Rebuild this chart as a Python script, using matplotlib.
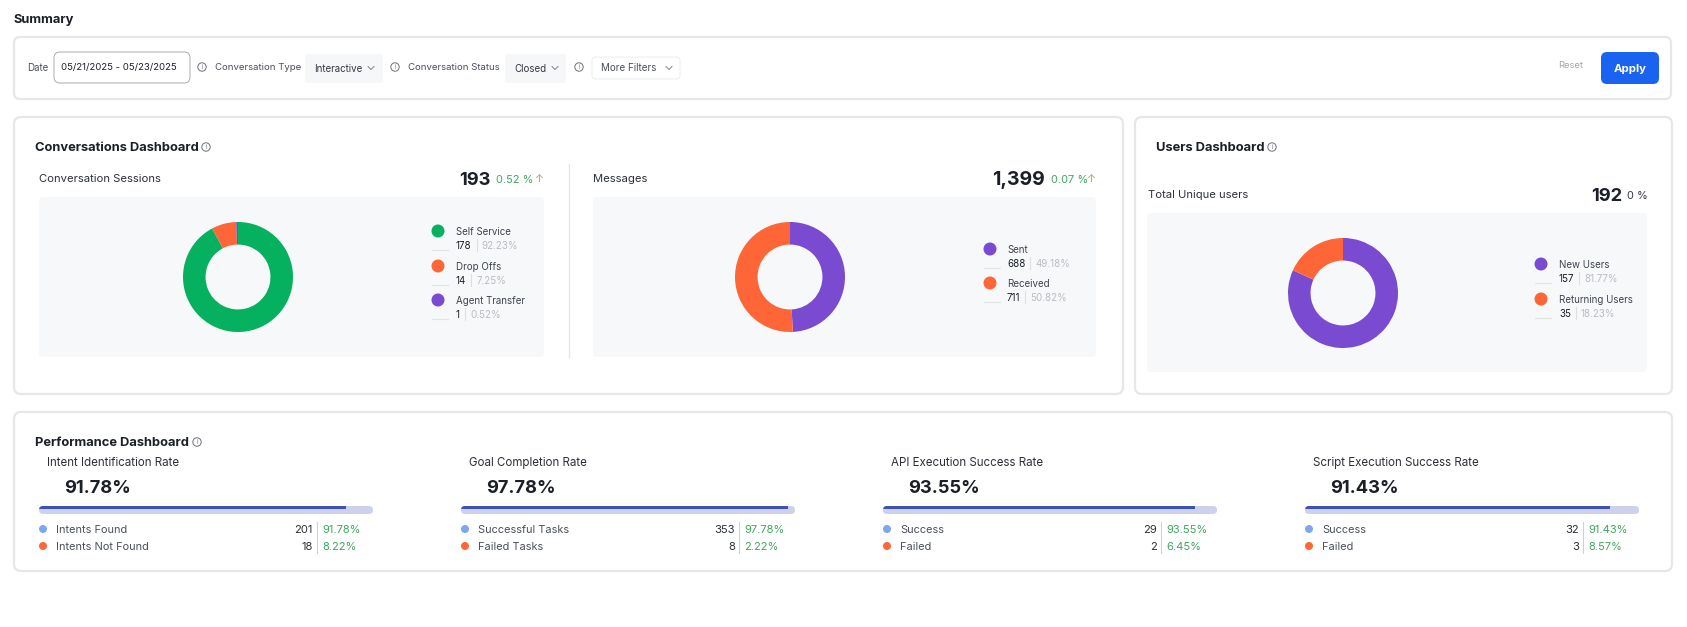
"""Summary page with the conversation, user and performance dashboards."""

import matplotlib

matplotlib.use("Agg")
import matplotlib.pyplot as plt
from matplotlib.patches import Circle, FancyBboxPatch

W, H = 1687, 627

PURPLE = "#7A4AD0"
ORANGE = "#FF6637"
GREEN = "#05B05F"
INK = "#1B1F27"
MUTED = "#4A4F5A"
FAINT = "#B9BCC2"
POS = "#3FA65F"
BORDER = "#E6E7E8"
PANEL = "#F6F8FA"

session_labels = ["Self Service", "Drop Offs", "Agent Transfer"]
session_counts = [178, 14, 1]
session_shares = ["92.23%", "7.25%", "0.52%"]

message_labels = ["Sent", "Received"]
message_counts = [688, 711]
message_shares = ["49.18%", "50.82%"]

user_labels = ["New Users", "Returning Users"]
user_counts = [157, 35]
user_shares = ["81.77%", "18.23%"]

perf_titles = [
    "Intent Identification Rate",
    "Goal Completion Rate",
    "API Execution Success Rate",
    "Script Execution Success Rate",
]
perf_rates = [91.78, 97.78, 93.55, 91.43]
perf_labels = [
    ("Intents Found", "Intents Not Found"),
    ("Successful Tasks", "Failed Tasks"),
    ("Success", "Failed"),
    ("Success", "Failed"),
]
perf_counts = [(201, 18), (353, 8), (29, 2), (32, 3)]
perf_shares = [
    ("91.78%", "8.22%"),
    ("97.78%", "2.22%"),
    ("93.55%", "6.45%"),
    ("91.43%", "8.57%"),
]

plt.rcParams["font.family"] = ["Inter", "DejaVu Sans"]

fig = plt.figure(figsize=(W / 100, H / 100), dpi=100, facecolor="white")
ax = fig.add_axes([0, 0, 1, 1])
ax.set_xlim(0, W)
ax.set_ylim(H, 0)
ax.axis("off")


def box(x0, y0, x1, y1, fc="white", ec=BORDER, lw=1.6, r=6, z=1):
    patch = FancyBboxPatch(
        (x0 + r, y0 + r), x1 - x0 - 2 * r, y1 - y0 - 2 * r,
        boxstyle=f"round,pad={r},rounding_size={r}",
        fc=fc, ec=ec, lw=lw, zorder=z,
    )
    ax.add_patch(patch)
    return patch


def label(x, y, s, size=7.2, color=MUTED, weight="normal", ha="left"):
    # nudge: va="center" sits a little high against the browser text
    return ax.text(x, y + 1.2, s, fontsize=size, color=color, fontweight=weight,
                   ha=ha, va="center", zorder=5)


def info(x, y, r=4.2, color="#6B7078"):
    ax.add_patch(Circle((x, y), r, fc="none", ec=color, lw=0.7, zorder=5))
    ax.text(x, y, "i", fontsize=4.6, color=color, ha="center", va="center", zorder=6)


def chevron(x, y, color="#6B7078"):
    ax.plot([x - 3, x, x + 3], [y - 1.5, y + 1.5, y - 1.5], color=color, lw=0.6, zorder=5)


def donut(cx, cy, r, counts, colors):
    inset = fig.add_axes([(cx - r) / W, 1 - (cy + r) / H, 2 * r / W, 2 * r / H])
    inset.pie(counts, colors=colors, startangle=90, counterclock=False, radius=1,
              wedgeprops={"width": 0.41, "linewidth": 0})
    inset.set_xlim(-1, 1)
    inset.set_ylim(-1, 1)
    inset.patch.set_alpha(0)


def legend(dot_x, text_x, ys, labels, counts, shares, colors):
    for y, name, n, share, c in zip(ys, labels, counts, shares, colors):
        ax.add_patch(Circle((dot_x, y), 6.5, fc=c, ec="none", zorder=5))
        label(text_x, y, name, size=7, color="#3F434C")
        t = label(text_x, y + 14, str(n), size=7, color=INK)
        w = t.get_window_extent(fig.canvas.get_renderer()).width
        ax.plot([text_x + w + 5] * 2, [y + 8, y + 20], color="#DDDFE2", lw=0.8, zorder=5)
        label(text_x + w + 10, y + 14, share, size=7, color=FAINT)
        ax.plot([dot_x - 6, dot_x + 10], [y + 19, y + 19], color="#E1E3E6", lw=0.8, zorder=5)


# header and filter bar
label(14, 19, "Summary", size=9.3, color=INK, weight="bold")
box(14, 37, 1671, 99)
label(27.5, 66.5, "Date", size=7)
box(54, 52, 190, 83, ec="#A9ABAF", lw=0.7, r=6, z=2)
label(61, 66.5, "05/21/2025 - 05/23/2025", size=6.9, color=INK)
info(202, 67)
label(215, 66.5, "Conversation Type", size=6.9)
box(305, 54, 383, 83, fc="#F6F7F9", ec="none", lw=0, r=3, z=2)
label(314, 67.5, "Interactive", size=7, color="#33373F")
chevron(371, 68)
info(395, 67)
label(408.5, 66.5, "Conversation Status", size=6.9)
box(505, 54, 566, 83, fc="#F6F7F9", ec="none", lw=0, r=3, z=2)
label(514, 67.5, "Closed", size=7, color="#33373F")
chevron(555, 68)
info(579, 67)
box(592, 57, 680, 79, ec="#ECEDEF", lw=0.7, r=3, z=2)
label(601, 66.5, "More Filters", size=7.1)
chevron(669, 68)
label(1558, 64.5, "Reset", size=6.7, color="#A3A5A9")
box(1601, 52, 1659, 84, fc="#1A63F0", ec="none", lw=0, r=6, z=2)
label(1630, 67.5, "Apply", size=8.2, color="white", weight="bold", ha="center")

# conversations card
box(14, 117, 1123, 394, r=7)
label(35.5, 147, "Conversations Dashboard", size=9.3, color=INK, weight="bold")
info(206, 147)
label(39, 178, "Conversation Sessions", size=8.1, color="#2C3038")
label(491, 179, "193", size=13.2, color=INK, weight="bold", ha="right")
label(496, 179, "0.52 %", size=7.9, color=POS)
label(539, 178, "↑", size=7.7, color="#B5A24E", ha="center")
box(39, 197, 544, 357, fc=PANEL, ec="none", lw=0, r=4)
donut(238, 277, 55, session_counts, [GREEN, ORANGE, PURPLE])
legend(438, 456, [231, 266, 300], session_labels, session_counts, session_shares,
       [GREEN, ORANGE, PURPLE])

ax.plot([569, 569], [164, 357], color="#E3E4E6", lw=0.9, zorder=3)

label(593, 178, "Messages", size=8.1, color="#2C3038")
label(1045, 179, "1,399", size=14, color=INK, weight="bold", ha="right")
label(1051, 179, "0.07 %", size=7.9, color=POS)
label(1091, 178, "↑", size=7.7, color="#B5A24E", ha="center")
box(593, 197, 1096, 357, fc=PANEL, ec="none", lw=0, r=4)
donut(790, 277, 55, message_counts, [PURPLE, ORANGE])
legend(990, 1007, [249, 283], message_labels, message_counts, message_shares,
       [PURPLE, ORANGE])

# users card
box(1135, 117, 1672, 394, r=7)
label(1156, 147, "Users Dashboard", size=9.3, color=INK, weight="bold")
info(1272, 147)
label(1148, 194, "Total Unique users", size=8.1, color="#2C3038")
label(1622, 195, "192", size=13.2, color=INK, weight="bold", ha="right")
label(1627, 195, "0 %", size=7.9, color="#33373F")
box(1147, 213, 1647, 372, fc=PANEL, ec="none", lw=0, r=4)
donut(1343, 293, 55, user_counts, [PURPLE, ORANGE])
legend(1541, 1559, [264, 299], user_labels, user_counts, user_shares, [PURPLE, ORANGE])

# performance card
box(14, 412, 1672, 571, r=7)
label(35.5, 442, "Performance Dashboard", size=9.3, color=INK, weight="bold")
info(197, 442)

for i, bar_x in enumerate([39, 461, 883, 1305]):
    label(bar_x + 8, 461.5, perf_titles[i], size=8.3, color="#2C3038")
    label(bar_x + 25, 487, f"{perf_rates[i]:.2f}%", size=13.2, color=INK, weight="bold")

    track = box(bar_x, 506, bar_x + 334, 514, fc="#CDD1EC", ec="none", lw=0, r=4, z=2)
    bar_ax = fig.add_axes([bar_x / W, 1 - 514 / H, 334 / W, 8 / H])
    bars = bar_ax.barh([0.6], [perf_rates[i]], height=0.4, color="#3F51B5", align="edge")
    bars[0].set_clip_path(track)
    bar_ax.set_xlim(0, 100)
    bar_ax.set_ylim(0, 1)
    bar_ax.axis("off")

    ax.plot([bar_x + 278] * 2, [522, 553], color="#CFD1D4", lw=0.8, zorder=5)
    for y, name, n, share, c in zip([529, 546], perf_labels[i], perf_counts[i],
                                    perf_shares[i], ["#7DA7EE", ORANGE]):
        ax.add_patch(Circle((bar_x + 4, y), 4, fc=c, ec="none", zorder=5))
        label(bar_x + 17, y, name, size=7.9, color=MUTED)
        label(bar_x + 274, y, str(n), size=8.1, color="#2C3038", ha="right")
        label(bar_x + 283, y, share, size=8, color=POS)

fig.savefig("out.png", dpi=100)
